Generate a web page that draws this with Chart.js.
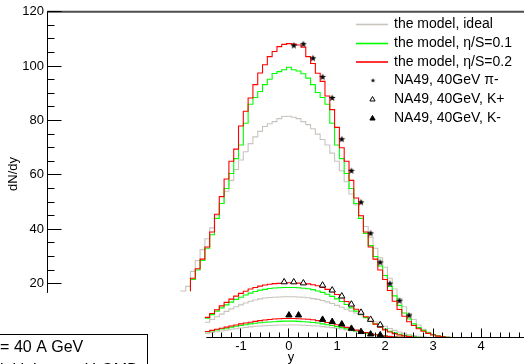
<!DOCTYPE html>
<html>
<head>
<meta charset="utf-8">
<title>dN/dy</title>
<script src="https://cdn.jsdelivr.net/npm/chart.js@4.4.1/dist/chart.umd.min.js"></script>
<style>
html,body{margin:0;padding:0;background:#ffffff;overflow:hidden;}
canvas{display:block;}
</style>
</head>
<body>
<canvas id="chart" width="529" height="364"></canvas>
<script>
// ---------------- data ----------------
const BIN_WIDTH = 0.1;

// pi- model histograms (bin centres start at the given value, step BIN_WIDTH)
const piIdealFirstBin = -2.2;
const piIdeal = [17.3, 19, 24.5, 28.5, 32.5, 36.5, 40.5, 45, 49.5, 54, 58, 62, 65.5, 68.5, 71.5, 74, 76, 77.8, 78.8, 79.6, 80.7, 81.5,
  81.6, 81.2, 80.7, 79.6, 78.5, 77, 75, 73, 71, 68, 65, 61.5, 57.5, 53, 49, 45, 41, 37, 33, 29.5, 26, 22, 18, 14.5, 11.5, 9, 6.8, 4.8,
  3.2, 2.1, 1.3, 0.8, 0.5, 0.3, 0.2, 0.1, 0, 0, 0, 0, 0, 0, 0, 0, 0, 0, 0, 0, 0];
const piViscFirstBin = -2.0;
const piEta01 = [21.5, 25, 28.5, 33, 38, 44, 49.5, 55, 60.5, 66, 71, 79, 86, 88.5, 90.7, 93.2, 95.2, 97.3, 98, 98.7,
  99.6, 98.7, 98.2, 97.2, 95.6, 93.2, 90.3, 88.5, 86, 79, 71, 66, 60.5, 55, 49.5, 44, 38.5, 34, 30, 26.5, 23, 19, 15.5, 12, 9.2, 7,
  5.2, 3.8, 2.8, 1.9, 1.3, 0.8, 0.5, 0.3, 0.2, 0.1, 0, 0, 0, 0, 0, 0, 0, 0, 0, 0, 0, 0, 0];
const piEta02 = [22, 25.5, 29, 33.5, 39, 45.5, 52, 58.5, 65, 69.5, 78, 83.4, 88.3, 93.2, 97.5, 100.5, 103.5, 105.4, 107.2, 108,
  108.3, 108.1, 107.8, 107, 103.5, 101, 97.4, 94.4, 89, 84, 77.5, 70, 65, 58, 51.5, 45, 39, 33.5, 29, 25, 21.5, 17.5, 13.5, 10.5, 8, 6,
  4.6, 3.4, 2.5, 1.7, 1.1, 0.7, 0.4, 0.25, 0.15, 0.1, 0, 0, 0, 0, 0, 0, 0, 0, 0, 0, 0, 0, 0];
const piFrameMin = 17.2;   // lower edge the pion outlines rise from

// kaon model histograms
const kaonFirstBin = -1.7;
const kPlusIdeal = [5.8, 6.8, 7.8, 8.8, 9.8, 10.7, 11.5, 12.2, 12.9, 13.5, 14.0, 14.4, 14.7, 14.9, 15.0, 15.1, 15.2,
  15.2, 15.2, 15.1, 15.0, 14.8, 14.5, 14.2, 13.8, 13.3, 12.7, 12.0, 11.3, 10.6, 9.9, 9.2, 8.5, 7.7, 6.9, 6.0, 5.1, 4.3, 3.5,
  2.8, 2.2, 1.7, 1.3, 0.9, 0.6, 0.4, 0.25, 0.15, 0.1];
const kPlusEta01 = [7.3, 8.6, 9.9, 11.1, 12.2, 13.2, 14.2, 15.0, 15.8, 16.5, 17.1, 17.6, 17.9, 18.2, 18.4, 18.5, 18.6,
  18.6, 18.6, 18.5, 18.3, 18.1, 17.8, 17.3, 16.8, 16.1, 15.3, 14.4, 13.4, 12.3, 11.1, 9.9, 8.7, 7.5, 6.3, 5.2, 4.2, 3.3, 2.5,
  1.9, 1.4, 1.0, 0.7, 0.45, 0.3, 0.2, 0.1, 0.05, 0];
const kPlusEta02 = [7.6, 9, 10.4, 11.8, 13.1, 14.3, 15.4, 16.4, 17.2, 18, 18.6, 19.1, 19.5, 19.8, 20, 20.1, 20.2,
  20.3, 20.3, 20.2, 20.1, 19.9, 19.6, 19.2, 18.6, 17.9, 17, 16, 14.8, 13.4, 12, 10.6, 9.2, 7.8, 6.4, 5.1, 4, 3, 2.2,
  1.6, 1.1, 0.8, 0.5, 0.3, 0.2, 0.1, 0.05, 0, 0];
const kMinusIdeal = [1.7, 2.0, 2.3, 2.6, 2.9, 3.2, 3.4, 3.7, 3.9, 4.1, 4.3, 4.4, 4.5, 4.6, 4.7, 4.8, 4.8,
  4.8, 4.8, 4.8, 4.7, 4.6, 4.5, 4.4, 4.2, 4.0, 3.8, 3.5, 3.3, 3.0, 2.7, 2.4, 2.1, 1.8, 1.6, 1.3, 1.1, 0.9, 0.7,
  0.55, 0.4, 0.3, 0.2, 0.15, 0.1, 0.05, 0, 0, 0];
const kMinusEta01 = [2.3, 2.6, 3.0, 3.3, 3.6, 4.0, 4.3, 4.6, 4.9, 5.2, 5.4, 5.6, 5.8, 5.9, 6.0, 6.1, 6.2,
  6.2, 6.2, 6.1, 6.0, 5.9, 5.7, 5.5, 5.2, 4.9, 4.6, 4.2, 3.8, 3.4, 3.0, 2.6, 2.2, 1.8, 1.5, 1.2, 0.9, 0.7, 0.5,
  0.35, 0.25, 0.15, 0.1, 0.05, 0, 0, 0, 0, 0];
const kMinusEta02 = [2.4, 2.8, 3.2, 3.6, 4.0, 4.4, 4.8, 5.2, 5.5, 5.8, 6.1, 6.4, 6.6, 6.8, 7.0, 7.1, 7.2,
  7.2, 7.2, 7.1, 7.0, 6.9, 6.7, 6.4, 6.1, 5.7, 5.3, 4.9, 4.4, 3.9, 3.4, 2.9, 2.4, 2.0, 1.6, 1.2, 0.9, 0.7, 0.5,
  0.35, 0.25, 0.15, 0.1, 0.05, 0, 0, 0, 0, 0];

// NA49, 40 GeV measurements
const na49PiY   = [0.1, 0.3, 0.5, 0.7, 0.9, 1.1, 1.3, 1.5, 1.7, 1.9, 2.1, 2.3, 2.5];
const na49PiVal = [107.6, 108.1, 102.9, 96.0, 88.3, 73.1, 61.5, 49.9, 38.5, 27.8, 20.0, 13.7, 8.3];
const na49KpY   = [-0.1, 0.1, 0.3, 0.7, 0.9, 1.1, 1.3, 1.5, 1.7, 1.9];
const na49KpVal = [20.6, 20.6, 20.2, 19.4, 17.6, 15.4, 12.4, 9.4, 6.8, 4.8];
const na49KmY   = [0.0, 0.2, 0.7, 0.9, 1.1, 1.3, 1.5, 1.7, 1.9];
const na49KmVal = [8.4, 8.4, 6.8, 6.0, 5.1, 3.5, 2.3, 1.4, 1.1];

// axes
const yTickLabels = [20, 40, 60, 80, 100, 120];
const xTickLabels = [-1, 0, 1, 2, 3, 4];
const Y_MIN = 0, Y_MAX = 120, Y_AXIS_LOW = 16.6, Y_MAJOR = 20, Y_MINOR = 5;
const X_MIN = -5.016, X_MAX = 4.893, X_AXIS_LOW = -1.72, X_MINOR = 0.2;

const legendLabels = ['the model, ideal', 'the model, \u03B7/S=0.1', 'the model, \u03B7/S=0.2',
  'NA49, 40GeV \u03C0-', 'NA49, 40GeV, K+', 'NA49, 40GeV, K-'];

// ---------------- styles ----------------
const C_IDEAL = '#c9c4be', C_ETA01 = '#00ff00', C_ETA02 = '#ff0000';
const FONT = 'Liberation Sans, Arial, Helvetica, sans-serif';

function makeStar(r) {
  const s = Math.ceil(r * 2 + 2);
  const c = document.createElement('canvas');
  c.width = s; c.height = s;
  const g = c.getContext('2d');
  g.fillStyle = '#000';
  g.beginPath();
  for (let i = 0; i < 10; i++) {
    const rr = i % 2 ? r * 0.42 : r;
    const a = -Math.PI / 2 + i * Math.PI / 5;
    g.lineTo(s / 2 + rr * Math.cos(a), s / 2 + rr * Math.sin(a));
  }
  g.closePath(); g.fill();
  return c;
}
const starBig = makeStar(3.6);
const starSmall = makeStar(2.4);

function histPoints(firstCentre, vals, base) {
  const pts = [];
  const e0 = firstCentre - BIN_WIDTH / 2;
  if (base !== undefined) pts.push({x: e0, y: base});
  vals.forEach((v, i) => pts.push({x: e0 + i * BIN_WIDTH, y: v}));
  pts.push({x: e0 + vals.length * BIN_WIDTH, y: vals[vals.length - 1]});
  return pts;
}
function histDs(label, firstCentre, vals, color, order, base) {
  return {label, data: histPoints(firstCentre, vals, base), borderColor: color, backgroundColor: color,
    borderWidth: 1.1, pointRadius: 0, stepped: true, fill: false, order};
}
function pointsDs(label, xs, ys, style, fillColor, radius) {
  return {label, data: xs.map((v, i) => ({x: v, y: ys[i]})), showLine: false, pointStyle: style,
    pointRadius: radius, pointBackgroundColor: fillColor, pointBorderColor: '#000', pointBorderWidth: 1, order: 0};
}

const datasets = [
  pointsDs('NA49 pi-', na49PiY, na49PiVal, starBig, '#000', 4),
  pointsDs('NA49 K+', na49KpY, na49KpVal, 'triangle', '#fff', 3.6),
  pointsDs('NA49 K-', na49KmY, na49KmVal, 'triangle', '#000', 3.6),
  histDs('pi eta0.2', piViscFirstBin, piEta02, C_ETA02, 1, piFrameMin),
  histDs('K+ eta0.2', kaonFirstBin, kPlusEta02, C_ETA02, 1),
  histDs('K- eta0.2', kaonFirstBin, kMinusEta02, C_ETA02, 1),
  histDs('pi eta0.1', piViscFirstBin, piEta01, C_ETA01, 2, piFrameMin),
  histDs('K+ eta0.1', kaonFirstBin, kPlusEta01, C_ETA01, 2),
  histDs('K- eta0.1', kaonFirstBin, kMinusEta01, C_ETA01, 2),
  histDs('pi ideal', piIdealFirstBin, piIdeal, C_IDEAL, 3, piFrameMin),
  histDs('K+ ideal', kaonFirstBin, kPlusIdeal, C_IDEAL, 3),
  histDs('K- ideal', kaonFirstBin, kMinusIdeal, C_IDEAL, 3)
];

function drawTri(ctx, x, y, r, fill) {
  ctx.beginPath();
  for (let i = 0; i < 3; i++) {
    const a = -Math.PI / 2 + i * 2 * Math.PI / 3;
    ctx.lineTo(x + r * Math.cos(a), y + r * Math.sin(a));
  }
  ctx.closePath();
  ctx.fillStyle = fill; ctx.fill();
  ctx.strokeStyle = '#000'; ctx.lineWidth = 1; ctx.stroke();
}

const rootFrame = {
  id: 'rootFrame',
  afterDatasetsDraw(chart) {
    const {ctx, chartArea: ca, scales: {x, y}} = chart;
    const px = v => x.getPixelForValue(v), py = v => y.getPixelForValue(v);
    const crisp = v => Math.round(v) + 0.5;
    ctx.save();
    // top frame line
    ctx.strokeStyle = '#4d4d4d'; ctx.lineWidth = 2;
    ctx.beginPath(); ctx.moveTo(ca.left - 1, py(Y_MAX)); ctx.lineTo(ca.right, py(Y_MAX)); ctx.stroke();
    // y axis
    ctx.strokeStyle = '#000'; ctx.lineWidth = 1;
    const yx = ca.left - 0.5;
    ctx.beginPath(); ctx.moveTo(yx, py(Y_MAX)); ctx.lineTo(yx, py(Y_AXIS_LOW)); ctx.stroke();
    ctx.beginPath();
    for (let v = Y_MAJOR; v <= Y_MAX; v += Y_MINOR) {
      const len = v % Y_MAJOR === 0 ? 14 : 7;
      const yy = crisp(py(v) - 0.5);
      ctx.moveTo(yx, yy); ctx.lineTo(yx + len, yy);
    }
    ctx.stroke();
    // x axis
    const xy = crisp(py(0) - 1);
    ctx.beginPath(); ctx.moveTo(px(X_AXIS_LOW), xy); ctx.lineTo(ca.right, xy); ctx.stroke();
    ctx.beginPath();
    for (let k = Math.ceil(X_AXIS_LOW / X_MINOR); k * X_MINOR <= X_MAX; k++) {
      const len = k % 5 === 0 ? 9 : 5;
      const xx = crisp(px(k * X_MINOR) - 0.5);
      ctx.moveTo(xx, xy); ctx.lineTo(xx, xy - len);
    }
    ctx.stroke();
    // axis titles
    ctx.fillStyle = '#000';
    ctx.font = '13px ' + FONT;
    ctx.textAlign = 'center'; ctx.textBaseline = 'middle';
    ctx.fillText('y', 291, 357);
    ctx.save();
    ctx.translate(13, 174); ctx.rotate(-Math.PI / 2);
    ctx.fillText('dN/dy', 0, 0);
    ctx.restore();
    // legend
    const rows = [24.5, 43.5, 62, 80.5, 99.5, 118.5];
    const lineCols = [C_IDEAL, C_ETA01, C_ETA02];
    ctx.font = '14px ' + FONT; ctx.textAlign = 'left'; ctx.textBaseline = 'middle';
    legendLabels.forEach((t, i) => {
      const ry = rows[i];
      if (i < 3) {
        ctx.strokeStyle = lineCols[i]; ctx.lineWidth = 1.6;
        ctx.beginPath(); ctx.moveTo(356, ry); ctx.lineTo(388, ry); ctx.stroke();
      } else if (i === 3) {
        ctx.drawImage(starSmall, 373 - starSmall.width / 2, ry - starSmall.height / 2);
      } else {
        drawTri(ctx, 372.5, ry, 3, i === 4 ? '#fff' : '#000');
      }
      ctx.fillStyle = '#000';
      ctx.fillText(t, 394, ry);
    });
    // bottom-left text box
    ctx.fillStyle = '#fff'; ctx.strokeStyle = '#000'; ctx.lineWidth = 1;
    ctx.fillRect(-2, 334.5, 149.5, 40);
    ctx.strokeRect(-2, 334.5, 149.5, 40);
    ctx.fillStyle = '#000'; ctx.font = '16px ' + FONT; ctx.textBaseline = 'alphabetic';
    ctx.fillText('E = 40 A GeV', -15, 352);
    ctx.fillText('initial state: UrQMD', 0, 375);
    ctx.restore();
  }
};

new Chart(document.getElementById('chart'), {
  type: 'line',
  data: {datasets},
  options: {
    responsive: false, animation: false, devicePixelRatio: 1,
    layout: {padding: {top: 10, left: 0, right: 0, bottom: 0}},
    plugins: {legend: {display: false}, tooltip: {enabled: false}},
    scales: {
      x: {type: 'linear', min: X_MIN, max: X_MAX,
        grid: {display: false, drawTicks: false}, border: {display: false},
        ticks: {stepSize: 1, includeBounds: false, autoSkip: false, maxRotation: 0, padding: 1, color: '#000',
          font: {family: FONT, size: 13},
          callback: v => xTickLabels.includes(v) ? String(v) : ''},
        afterFit(s) { s.height = 26; }},
      y: {type: 'linear', min: Y_MIN, max: Y_MAX,
        grid: {display: false, drawTicks: false}, border: {display: false},
        ticks: {stepSize: 20, padding: 4, color: '#000', font: {family: FONT, size: 13},
          callback: v => yTickLabels.includes(v) ? String(v) : ''},
        afterFit(s) { s.width = 48; }}
    }
  },
  plugins: [rootFrame]
});
</script>
</body>
</html>
